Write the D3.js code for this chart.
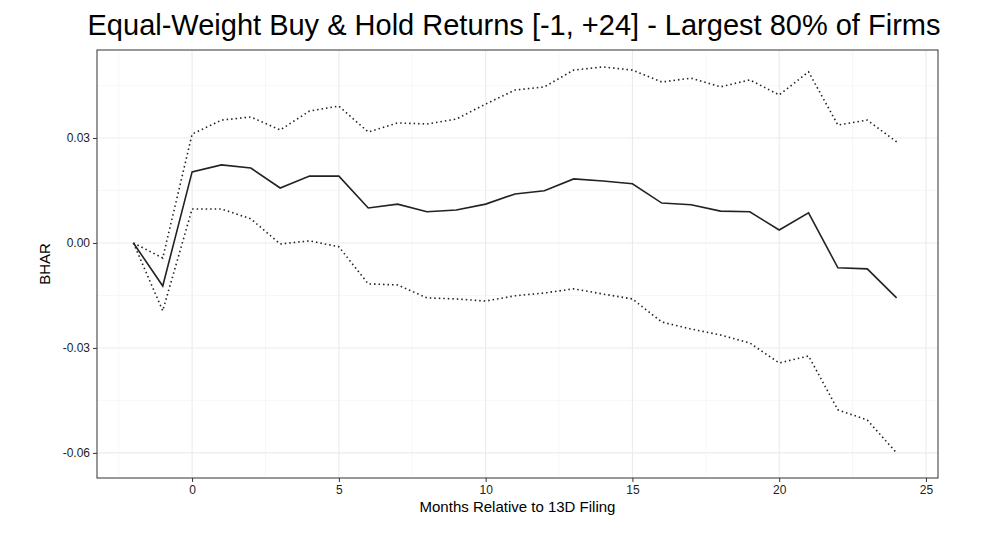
<!DOCTYPE html><html><head><meta charset="utf-8">
<script src="https://cdn.jsdelivr.net/npm/d3@7"></script>
<style>body{margin:0;background:#fff}</style></head><body>
<svg id="c" width="1000" height="553"></svg>
<script>
const months=d3.range(-2,25);
const bhar=[0,-0.0123,0.0203,0.0223,0.0214,0.0157,0.0191,0.0191,0.0100,0.0111,0.0089,0.0094,0.0111,0.0140,0.0149,0.0183,0.0177,0.0169,0.0114,0.0109,0.0091,0.0089,0.0037,0.0086,-0.0071,-0.0074,-0.0157];
const upper=[0,-0.0043,0.0311,0.0351,0.0360,0.0323,0.0377,0.0391,0.0317,0.0343,0.0340,0.0354,0.0397,0.0437,0.0446,0.0494,0.0503,0.0494,0.0460,0.0471,0.0446,0.0466,0.0423,0.0489,0.0337,0.0351,0.0289];
const lower=[0,-0.0194,0.0097,0.0097,0.0069,-0.0003,0.0006,-0.0011,-0.0117,-0.0120,-0.0157,-0.0160,-0.0166,-0.0151,-0.0143,-0.0131,-0.0146,-0.0160,-0.0226,-0.0246,-0.0263,-0.0286,-0.0343,-0.0323,-0.0477,-0.0506,-0.0600];
const xTicks=[0,5,10,15,20,25], yTicks=[0.03,0,-0.03,-0.06];
const svg=d3.select("#c");
const L=97,R=938,T=50,B=478;
const x=d3.scaleLinear().domain([-3.24,25.41]).range([L,R]);
const y=d3.scaleLinear().domain([-0.06717,0.05514]).range([B,T]);
const g=svg.append("g");
[-2.5,2.5,7.5,12.5,17.5,22.5].forEach(v=>g.append("line").attr("x1",x(v)).attr("x2",x(v)).attr("y1",T).attr("y2",B).attr("stroke","#f2f2f2").attr("stroke-width",0.6));
[0.045,0.015,-0.015,-0.045].forEach(v=>g.append("line").attr("y1",y(v)).attr("y2",y(v)).attr("x1",L).attr("x2",R).attr("stroke","#f2f2f2").attr("stroke-width",0.6));
xTicks.forEach(v=>g.append("line").attr("x1",x(v)).attr("x2",x(v)).attr("y1",T).attr("y2",B).attr("stroke","#ebebeb").attr("stroke-width",1.1));
yTicks.forEach(v=>g.append("line").attr("y1",y(v)).attr("y2",y(v)).attr("x1",L).attr("x2",R).attr("stroke","#ebebeb").attr("stroke-width",1.1));
const line=d3.line().x((d,i)=>x(months[i])).y(d=>y(d));
[upper,lower].forEach(a=>svg.append("path").attr("d",line(a)).attr("fill","none").attr("stroke","#222").attr("stroke-width",1.6).attr("stroke-dasharray","1.5,3"));
svg.append("path").attr("d",line(bhar)).attr("fill","none").attr("stroke","#222").attr("stroke-width",1.6);
svg.append("rect").attr("x",L).attr("y",T).attr("width",R-L).attr("height",B-T).attr("fill","none").attr("stroke","#333").attr("stroke-width",1);
const fmt=d=>d3.format(".2f")(d).replace("\u2212","-");
const xa=svg.append("g").attr("transform",`translate(0,${B})`).call(d3.axisBottom(x).tickValues(xTicks).tickSize(4).tickPadding(3));
const ya=svg.append("g").attr("transform",`translate(${L},0)`).call(d3.axisLeft(y).tickValues(yTicks).tickSize(4).tickPadding(3).tickFormat(fmt));
[xa,ya].forEach(a=>{a.select(".domain").remove();a.selectAll("line").attr("stroke","#333");a.selectAll("text").attr("font-family","Liberation Sans, Arial").attr("font-size",12).attr("fill","#222");});
svg.append("text").attr("x",(L+R)/2).attr("y",512).attr("text-anchor","middle").attr("font-family","Liberation Sans, Arial").attr("font-size",15).text("Months Relative to 13D Filing");
svg.append("text").attr("transform",`translate(50,${(T+B)/2}) rotate(-90)`).attr("text-anchor","middle").attr("font-family","Liberation Sans, Arial").attr("font-size",15).text("BHAR");
svg.append("text").attr("x",514).attr("y",35).attr("text-anchor","middle").attr("font-family","Liberation Sans, Arial").attr("font-size",29).text("Equal-Weight Buy & Hold Returns [-1, +24] - Largest 80% of Firms");
</script></body></html>
